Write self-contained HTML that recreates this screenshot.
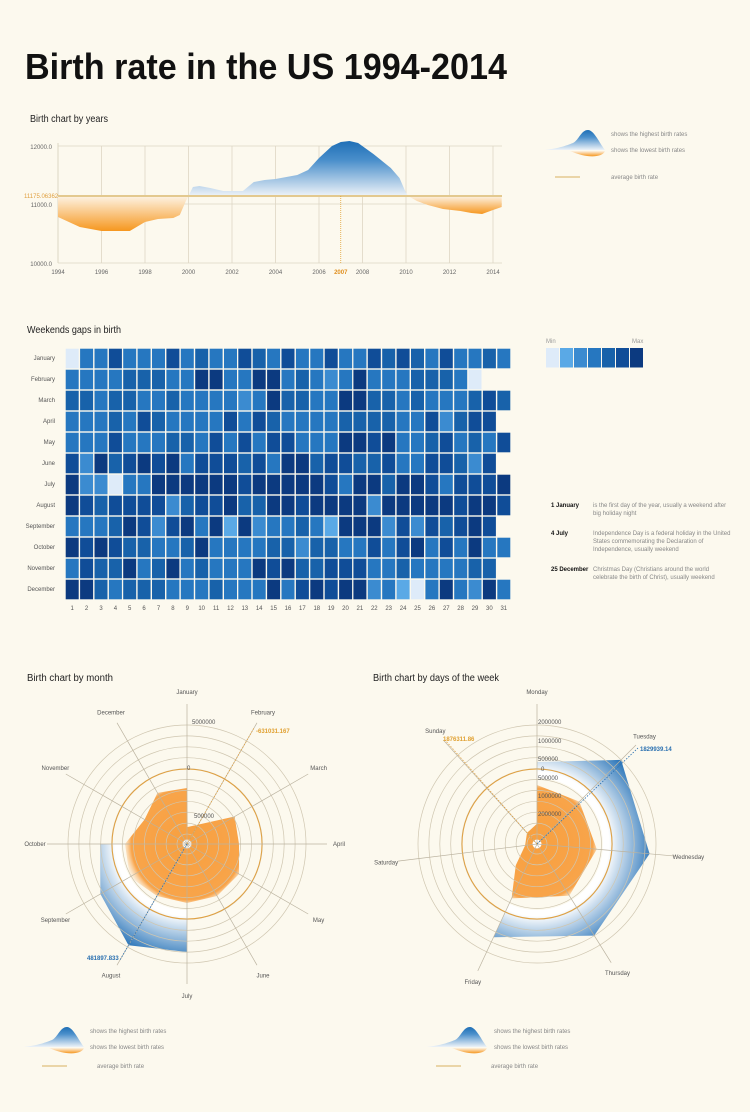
<!DOCTYPE html>
<html><head><meta charset="utf-8"><style>
html,body{margin:0;padding:0;background:#fcf9ee;}
svg{display:block;font-family:"Liberation Sans",sans-serif;}
</style></head><body>
<svg id="s" width="750" height="1112" viewBox="0 0 750 1112" xmlns="http://www.w3.org/2000/svg"></svg>
<script>
var o='';
function P(s){o+=s;}
P('<defs>'+
'<linearGradient id="gb" x1="0" y1="0" x2="0" y2="1"><stop offset="0" stop-color="#1f6fb6"/><stop offset="0.35" stop-color="#4a8fcb"/><stop offset="1" stop-color="#eef3f8"/></linearGradient>'+
'<linearGradient id="go" x1="0" y1="0" x2="0" y2="1"><stop offset="0" stop-color="#fdf3e4"/><stop offset="1" stop-color="#f6971f"/></linearGradient>'+
'<radialGradient id="rom" cx="187" cy="844" r="68" gradientUnits="userSpaceOnUse"><stop offset="0" stop-color="#f7a040"/><stop offset="0.82" stop-color="#f8a44a"/><stop offset="1" stop-color="#fcf9ee" stop-opacity="0"/></radialGradient>'+
'<radialGradient id="rbm" cx="187" cy="844" r="120" gradientUnits="userSpaceOnUse"><stop offset="0.6" stop-color="#ffffff"/><stop offset="1" stop-color="#1e6db5"/></radialGradient>'+
'<radialGradient id="row" cx="537" cy="844" r="68" gradientUnits="userSpaceOnUse"><stop offset="0" stop-color="#f7a040"/><stop offset="0.82" stop-color="#f8a44a"/><stop offset="1" stop-color="#fcf9ee" stop-opacity="0"/></radialGradient>'+
'<radialGradient id="rbw" cx="537" cy="844" r="120" gradientUnits="userSpaceOnUse"><stop offset="0.6" stop-color="#ffffff"/><stop offset="1" stop-color="#1e6db5"/></radialGradient>'+
'</defs>');
P('<text x="25" y="79" font-size="36" font-weight="bold" fill="#111" textLength="482" lengthAdjust="spacingAndGlyphs">Birth rate in the US 1994-2014</text>');
function T(x,y,s,t,extra){P('<text x="'+x+'" y="'+y+'" font-size="'+s+'" '+(extra||'fill="#777"')+'>'+t+'</text>');}
T(30,122,10,'Birth chart by years','fill="#222" textLength="78" lengthAdjust="spacingAndGlyphs"');
var X=function(y){return 58+(y-1994)*(493-58)/20;};
for(var yr=1994;yr<=2014;yr+=2){var x=X(yr);P('<line x1="'+x+'" y1="146" x2="'+x+'" y2="263" stroke="#ddd6c4" stroke-width="0.8"/>');T(x,274,6,yr,'fill="#666" text-anchor="middle"');}
P('<line x1="58" y1="146" x2="502" y2="146" stroke="#ddd6c4" stroke-width="0.8"/><line x1="58" y1="204" x2="502" y2="204" stroke="#ddd6c4" stroke-width="0.8"/><line x1="58" y1="263" x2="502" y2="263" stroke="#ddd6c4" stroke-width="0.8"/><line x1="58" y1="143" x2="58" y2="263" stroke="#ddd6c4"/>');
T(52,149,6,'12000.0','fill="#666" text-anchor="end"');T(52,207,6,'11000.0','fill="#666" text-anchor="end"');T(52,266,6,'10000.0','fill="#666" text-anchor="end"');
function pts(a){return a.map(function(p){return X(p[0]).toFixed(1)+','+p[1];}).join(' ');}
P('<polygon fill="url(#go)" points="'+pts([[1994,196],[1994,217],[1995,227],[1996,231],[1997.3,231],[1998,222],[1998.6,219],[1999.3,218],[1999.6,215],[1999.9,200],[2000,196]])+'"/>');
P('<polygon fill="url(#gb)" points="'+pts([[2000,196],[2000.2,187],[2000.5,186],[2001,188],[2001.6,191],[2002.5,191],[2003,182],[2003.5,180],[2004,179],[2005,175],[2005.5,170],[2006,158],[2006.6,146],[2007,142],[2007.4,141],[2007.8,143],[2008.5,154],[2009.3,168],[2009.7,178],[2010,193],[2010.1,196]])+'"/>');
P('<polygon fill="url(#go)" points="'+pts([[2010.1,196],[2010.5,201],[2011,205],[2011.7,209],[2012.5,211],[2013,213],[2013.5,214],[2014,210],[2014.4,207],[2014.4,196]])+'"/>');
P('<line x1="58" y1="196" x2="502" y2="196" stroke="#e3c98f" stroke-width="2"/>');
P('<line x1="'+X(2007)+'" y1="196" x2="'+X(2007)+'" y2="263" stroke="#e0a030" stroke-dasharray="1,1" stroke-width="0.8"/>');
T(24,198,6,'11175.06362','fill="#e0a040"');
T(X(2007),274,6,'2007','fill="#e09020" font-weight="bold" text-anchor="middle"');
function leg(x0,y0,tx){
 P('<path d="M'+x0+' '+(y0+20)+' C'+(x0+15)+' '+(y0+18)+' '+(x0+20)+' '+(y0+16)+' '+(x0+28)+' '+(y0+13)+' C'+(x0+34)+' '+(y0+10)+' '+(x0+36)+' '+y0+' '+(x0+43)+' '+y0+' C'+(x0+49)+' '+y0+' '+(x0+55)+' '+(y0+14)+' '+(x0+60)+' '+(y0+20)+' Z" fill="url(#gb)"/>');
 P('<path d="M'+(x0+25)+' '+(y0+21)+' L'+(x0+60)+' '+(y0+21)+' C'+(x0+58)+' '+(y0+26)+' '+(x0+50)+' '+(y0+27)+' '+(x0+42)+' '+(y0+26)+' C'+(x0+35)+' '+(y0+25)+' '+(x0+30)+' '+(y0+23)+' '+(x0+25)+' '+(y0+21)+' Z" fill="url(#go)"/>');
 T(tx,y0+6,6,'shows the highest birth rates','fill="#888"');T(tx,y0+22,6,'shows the lowest birth rates','fill="#888"');
}
leg(545,130,611);
P('<line x1="555" y1="177" x2="580" y2="177" stroke="#e3c98f" stroke-width="1.5"/>');T(611,179,6,'average birth rate','fill="#888"');
leg(24,1027,90);P('<line x1="42" y1="1066" x2="67" y2="1066" stroke="#e3c98f" stroke-width="1.5"/>');T(97,1068,6,'average birth rate','fill="#888"');
leg(427,1027,494);P('<line x1="436" y1="1066" x2="461" y2="1066" stroke="#e3c98f" stroke-width="1.5"/>');T(491,1068,6,'average birth rate','fill="#888"');
T(27,333,10,'Weekends gaps in birth','fill="#222" textLength="94" lengthAdjust="spacingAndGlyphs"');
var C=['#deebf9','#5aa9e6','#3b8bd0','#2677c0','#1862aa','#104d98','#0c3a80'];
var rows=[
'0 3 3 5 3 3 3 5 3 4 3 3 5 4 3 5 3 3 5 3 3 5 4 5 4 3 5 3 3 4 3',
'3 3 3 3 4 4 4 3 3 6 6 3 3 6 6 3 4 3 2 3 6 3 3 3 4 4 4 3 0',
'4 4 3 4 4 3 3 4 3 3 3 3 2 3 6 4 4 3 3 6 6 4 4 3 4 3 3 3 4 5 4',
'3 3 3 4 3 5 4 3 3 3 3 5 3 5 4 3 3 3 3 4 4 4 4 3 3 5 2 4 5 5',
'3 3 3 5 3 3 3 4 4 3 5 3 5 3 5 5 3 3 3 6 6 5 6 3 3 4 5 3 4 3 5',
'5 2 6 4 5 6 5 6 3 5 5 5 4 5 3 6 6 4 5 5 4 4 5 3 3 5 5 4 2 5',
'6 2 2 0 3 3 6 6 6 6 6 6 5 6 6 6 6 6 5 3 6 6 4 6 6 5 3 5 5 5 6',
'6 5 4 5 5 5 5 2 4 5 5 6 4 4 6 6 5 6 6 6 6 2 6 6 6 6 6 5 6 6 5',
'3 3 3 4 6 5 2 5 6 3 6 1 6 2 3 3 4 3 1 6 6 6 2 5 2 5 4 5 6 5',
'6 5 6 5 4 4 3 3 4 6 3 3 3 3 4 4 2 4 4 3 3 5 3 5 6 3 5 3 6 3 3',
'3 5 4 4 6 3 4 6 3 4 3 3 3 6 5 6 4 4 5 5 5 3 3 4 3 3 3 3 4 4',
'6 6 4 3 4 4 4 3 3 3 4 3 3 3 6 3 5 6 5 6 6 2 3 1 0 3 6 3 2 6 3'];
var mn=['January','February','March','April','May','June','July','August','September','October','November','December'];
var cw=446/31;
for(var r=0;r<12;r++){
 var y=348+r*21;
 T(55,y+12,6,mn[r],'fill="#555" text-anchor="end"');
 var v=rows[r].split(' ');
 for(var c=0;c<v.length&&c<31;c++){
  P('<rect x="'+(65+c*cw+0.7).toFixed(1)+'" y="'+(y+0.7)+'" width="'+(cw-1.4).toFixed(1)+'" height="19.6" fill="'+C[+v[c]]+'"/>');
 }
}
for(var c=0;c<31;c++)T((65+c*cw+cw/2).toFixed(1),610,6,c+1,'fill="#555" text-anchor="middle"');
T(546,343,6,'Min','fill="#999"');T(632,343,6,'Max','fill="#999"');
for(var i=0;i<7;i++)P('<rect x="'+(546+i*14)+'" y="348" width="13" height="19.5" fill="'+C[i]+'"/>');
function note(y,h,lines){T(551,y,6,h,'fill="#111" font-weight="bold"');for(var i=0;i<lines.length;i++)T(593,y+i*8,6,lines[i],'fill="#888"');}
note(507,'1 January',['is the first day of the year, usually a weekend after','big holiday night']);
note(535,'4 July',['Independence Day is a federal holiday in the United','States commemorating the Declaration of','Independence, usually weekend']);
note(571,'25 December',['Christmas Day (Christians around the world','celebrate the birth of Christ), usually weekend']);
function pt(cx,cy,r,d){var a=d*Math.PI/180;return [(cx+r*Math.sin(a)).toFixed(1),(cy-r*Math.cos(a)).toFixed(1)];}
function poly(cx,cy,arr,fill){P('<polygon fill="'+fill+'" points="'+arr.map(function(q){return pt(cx,cy,q[1],q[0]).join(',');}).join(' ')+'"/>');}
function arc(a0,a1,r){var res=[];for(var a=a0;(a1>a0)?a<=a1:a>=a1;a+=(a1>a0?5:-5))res.push([a,r]);return res;}
function rings(cx,cy){for(var i=0;i<11;i++){var r=10+i*10.9;P('<circle cx="'+cx+'" cy="'+cy+'" r="'+r+'" fill="none" stroke="#cfc6b0" stroke-width="0.7"/>');}
 P('<circle cx="'+cx+'" cy="'+cy+'" r="4.5" fill="#fff"/>');}
T(27,681,10,'Birth chart by month','fill="#222" textLength="86" lengthAdjust="spacingAndGlyphs"');
var cx=187,cy=844;
poly(cx,cy,[[270,87],[240,100],[210,117],[180,108]].concat(arc(180,270,66)),'url(#rbm)');
poly(cx,cy,[[0,56],[2,17],[60,55],[90,52],[120,60],[150,60],[180,59],[210,60],[240,66],[270,62],[300,49],[330,59]],'url(#rom)');
rings(cx,cy);
P('<circle cx="'+cx+'" cy="'+cy+'" r="75" fill="none" stroke="#e0a040" stroke-width="1"/>');
for(var i=0;i<12;i++){var e=pt(cx,cy,140,i*30);P('<line x1="'+cx+'" y1="'+cy+'" x2="'+e[0]+'" y2="'+e[1]+'" stroke="#bbb3a0" stroke-width="0.7"/>');var l=pt(cx,cy,152,i*30);T(l[0],+l[1]+2,6,mn[i],'fill="#555" text-anchor="middle"');}
P('<line x1="'+cx+'" y1="'+cy+'" x2="254" y2="728" stroke="#e0a040" stroke-dasharray="1.5,1.5" stroke-width="0.8"/>');
P('<line x1="'+cx+'" y1="'+cy+'" x2="120" y2="960" stroke="#2a70b0" stroke-dasharray="1.5,1.5" stroke-width="0.8"/>');
T(256,733,6,'-631031.167','fill="#e0a030" font-weight="bold"');
T(87,960,6,'481897.833','fill="#2a70b0" font-weight="bold"');
T(192,724,6,'5000000','fill="#555"');T(187,770,6,'0','fill="#555"');T(194,818,6,'500000','fill="#555"');
T(373,681,10,'Birth chart by days of the week','fill="#222" textLength="126" lengthAdjust="spacingAndGlyphs"');
cx=537;
var wa=[0,45,95,148,205,263,318],wn=['Monday','Tuesday','Wednesday','Thursday','Friday','Saturday','Sunday'];
poly(cx,cy,[[0,82],[45,119],[95,113],[148,108],[205,103]].concat(arc(205,0,66)),'url(#rbw)');
poly(cx,cy,[[0,59],[45,60],[95,60],[148,61],[205,60],[225,30],[263,12],[318,15],[359,20]],'url(#row)');
rings(cx,cy);
P('<circle cx="'+cx+'" cy="'+cy+'" r="75" fill="none" stroke="#e0a040" stroke-width="1"/>');
for(var i=0;i<7;i++){var e=pt(cx,cy,140,wa[i]);P('<line x1="'+cx+'" y1="'+cy+'" x2="'+e[0]+'" y2="'+e[1]+'" stroke="#bbb3a0" stroke-width="0.7"/>');var l=pt(cx,cy,152,wa[i]);T(l[0],+l[1]+2,6,wn[i],'fill="#555" text-anchor="middle"');}
P('<line x1="'+cx+'" y1="'+cy+'" x2="638" y2="748" stroke="#2a70b0" stroke-dasharray="1.5,1.5" stroke-width="0.8"/>');
P('<line x1="'+cx+'" y1="'+cy+'" x2="445" y2="740" stroke="#e0a040" stroke-dasharray="1.5,1.5" stroke-width="0.8"/>');
T(640,751,6,'1829939.14','fill="#2a70b0" font-weight="bold"');T(443,741,6,'1876311.86','fill="#e0a030" font-weight="bold"');
var wl=[[724,'2000000'],[743,'1000000'],[761,'500000'],[771,'0'],[780,'500000'],[798,'1000000'],[816,'2000000']];
wl.forEach(function(w){T(w[1]=='0'?541:538,w[0],6,w[1],'fill="#555"');});
document.getElementById('s').innerHTML=o;
</script>
</body></html>
